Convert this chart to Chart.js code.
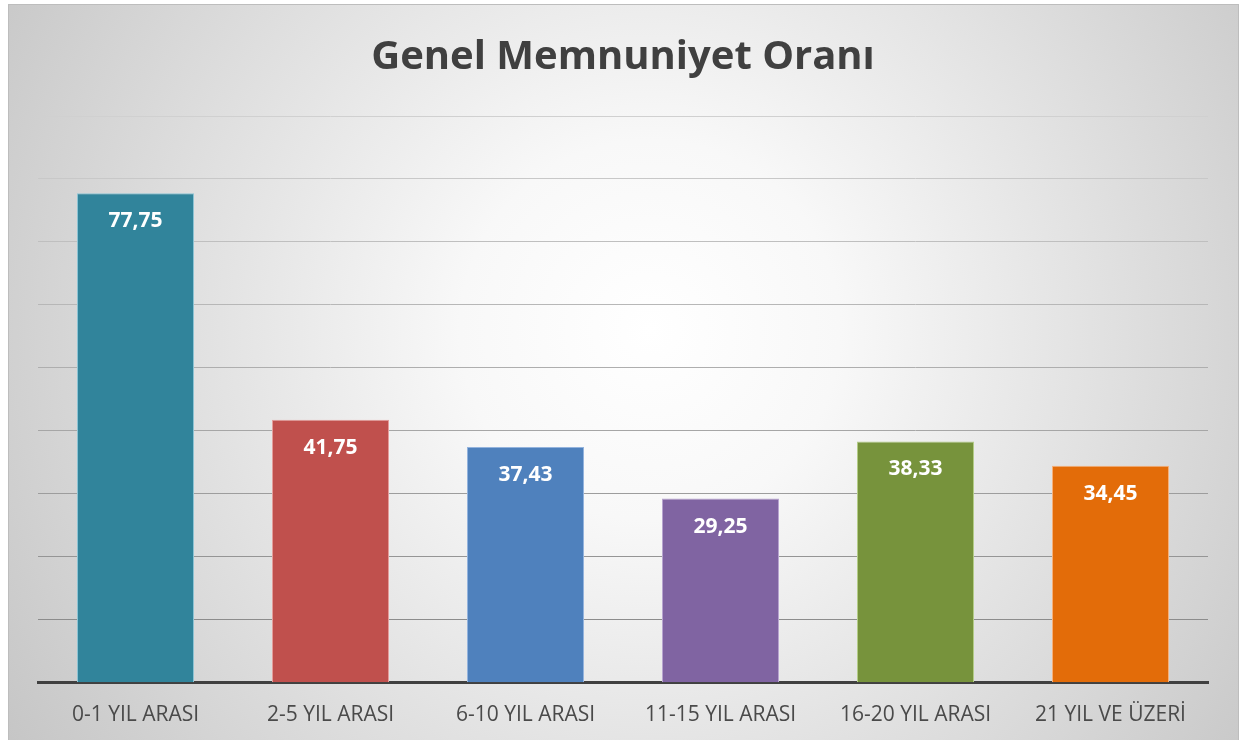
<!DOCTYPE html>
<html>
<head>
<meta charset="utf-8">
<script src="https://cdn.jsdelivr.net/npm/chart.js@4"></script>
<style>
  html, body { margin: 0; padding: 0; background: #fff; }
  #wrap { width: 1241px; height: 740px; }
</style>
</head>
<body>
<div id="wrap"><canvas id="chart" width="1241" height="740"></canvas></div>
<script>
const categories = ['0-1 YIL ARASI', '2-5 YIL ARASI', '6-10 YIL ARASI', '11-15 YIL ARASI', '16-20 YIL ARASI', '21 YIL VE ÜZERİ'];
const values = [77.75, 41.75, 37.43, 29.25, 38.33, 34.45];
const barColors = ['#31849B', '#C0504D', '#4F81BD', '#8064A2', '#77933C', '#E36C09'];
const barEdges = ['#8CC3D3', '#E49C9A', '#93B3DD', '#B7A3CF', '#B3CC86', '#F6B07A'];

const fontFamily = '"Open Sans", "DejaVu Sans", sans-serif';

// panel background with soft radial shading
const backdrop = {
    id: 'backdrop',
    beforeDraw(chart) {
        const c = chart.ctx;
        c.save();
        c.fillStyle = '#ffffff';
        c.fillRect(0, 0, chart.width, chart.height);
        const g = c.createRadialGradient(650, 330, 0, 650, 330, 760);
        g.addColorStop(0, '#ffffff');
        g.addColorStop(0.25, '#f8f8f8');
        g.addColorStop(1, '#c6c6c6');
        c.fillStyle = g;
        c.fillRect(8, 4, 1231, 736);
        c.strokeStyle = '#bdbdbd';
        c.lineWidth = 1;
        c.strokeRect(8.5, 4.5, 1230, 740);
        c.restore();
    }
};

// white value labels inside the bar tops
const valueLabels = {
    id: 'valueLabels',
    afterDatasetsDraw(chart) {
        const c = chart.ctx;
        const meta = chart.getDatasetMeta(0);
        c.save();
        c.fillStyle = '#ffffff';
        c.font = 'bold 21px ' + fontFamily;
        c.textAlign = 'center';
        c.textBaseline = 'middle';
        meta.data.forEach((bar, i) => {
            const txt = values[i].toFixed(2).replace('.', ',');
            c.fillText(txt, bar.x, bar.y + 28);
        });
        c.restore();
    }
};

new Chart(document.getElementById('chart'), {
    type: 'bar',
    data: {
        labels: categories,
        datasets: [{
            data: values,
            backgroundColor: barColors,
            borderColor: barEdges,
            borderWidth: 1,
            borderSkipped: 'bottom',
            categoryPercentage: 1,
            barPercentage: 0.6
        }]
    },
    options: {
        responsive: false,
        animation: false,
        layout: { padding: { left: 38, right: 33, top: 4, bottom: -8 } },
        plugins: {
            legend: { display: false },
            tooltip: { enabled: false },
            title: {
                display: true,
                text: 'Genel Memnuniyet Oranı',
                color: '#404040',
                font: { family: fontFamily, size: 40, weight: 'bold' },
                padding: { top: 30, bottom: 34 }
            }
        },
        scales: {
            x: {
                grid: { display: false, drawTicks: false },
                border: { display: true, color: '#404040', width: 3 },
                ticks: {
                    color: '#4a4a4a',
                    font: { family: fontFamily, size: 21 },
                    padding: 20,
                    maxRotation: 0
                }
            },
            y: {
                min: 0,
                max: 90,
                ticks: { display: false, stepSize: 10 },
                border: { display: false },
                grid: {
                    drawTicks: false,
                    lineWidth: 1,
                    color: (ctx) => {
                        const v = ctx.tick ? ctx.tick.value : 0;
                        if (v === 0) return 'rgba(0,0,0,0)';
                        const shade = Math.round(140 + (v - 10) * 0.85);
                        return `rgb(${shade},${shade},${shade})`;
                    }
                }
            }
        }
    },
    plugins: [backdrop, valueLabels]
});
</script>
</body>
</html>
